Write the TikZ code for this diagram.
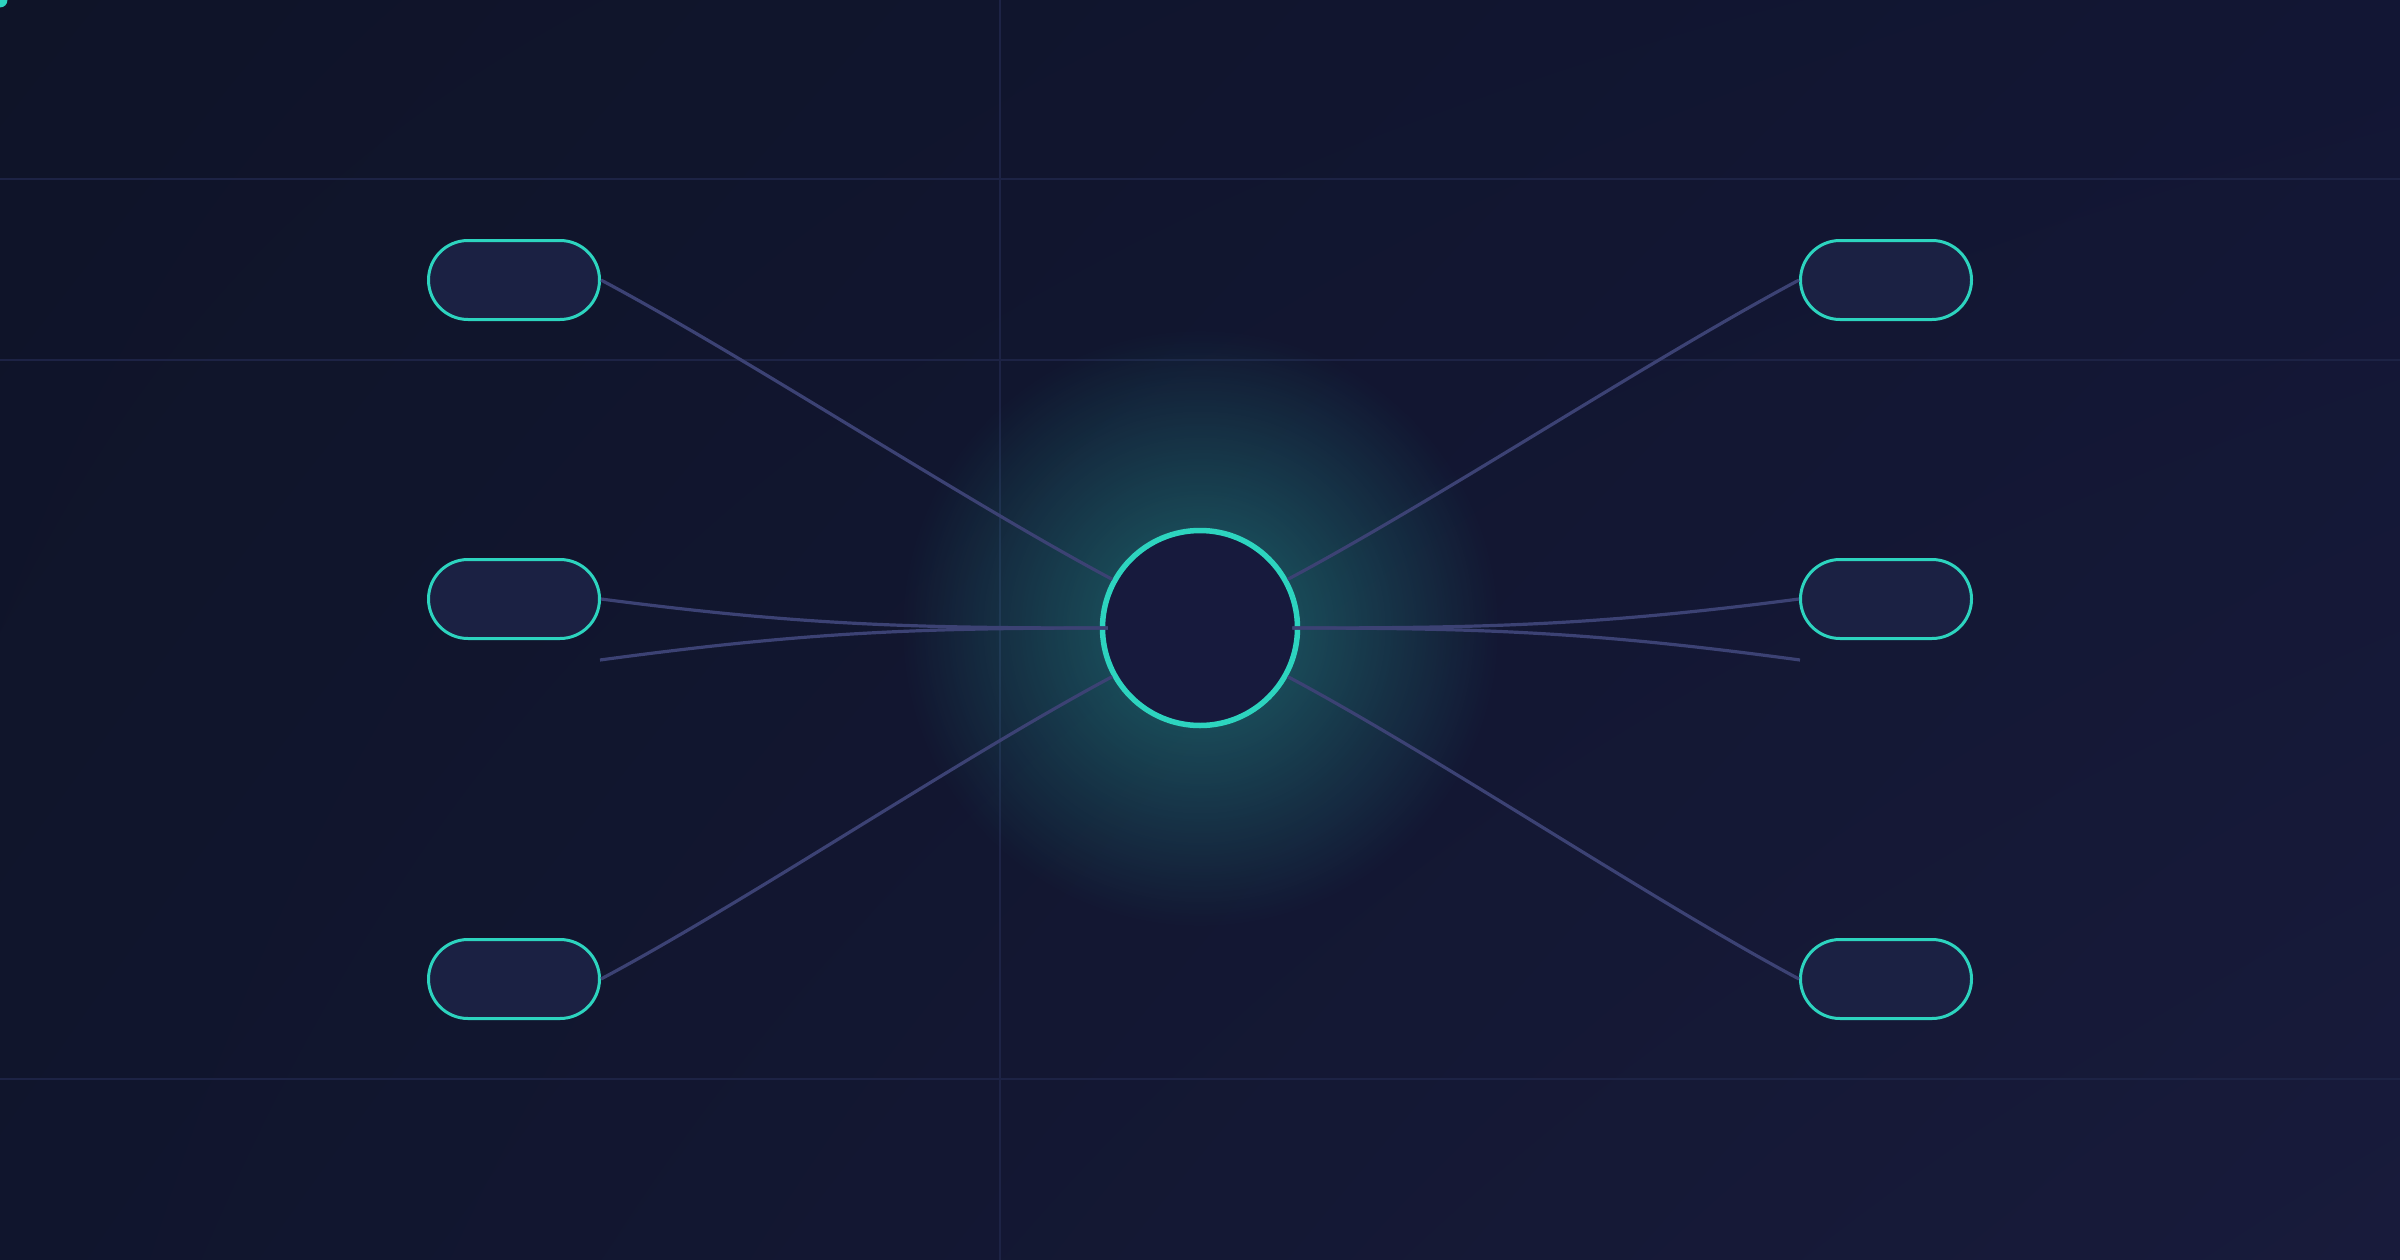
\documentclass[tikz,border=0pt]{standalone}
\usepackage{tikz}
\usetikzlibrary{shadings,fadings}
\definecolor{bgtl}{HTML}{0F1428}
\definecolor{bgtr}{HTML}{121634}
\definecolor{bgbl}{HTML}{10152D}
\definecolor{bgbr}{HTML}{181B3B}
\definecolor{tealc}{HTML}{2DD4BF}
\definecolor{pillfill}{HTML}{1B2143}
\definecolor{hubfill}{HTML}{171A3D}
\definecolor{linkc}{HTML}{3C4274}
\definecolor{gridc}{HTML}{1D2345}
\tikzfading[name=glowfade, inner color=transparent!0, outer color=transparent!100]

\begin{document}
\begin{tikzpicture}[x=1pt,y=-1pt,
    pill/.style={draw=tealc, fill=pillfill, line width=3pt, rounded corners=39.5pt,
      minimum width=171pt, minimum height=79pt, inner sep=0pt},
    hubc/.style={circle, draw=tealc, fill=hubfill, line width=5.5pt, minimum size=195pt, inner sep=0pt},
    link/.style={draw=linkc, line width=3.2pt},
    gridl/.style={draw=gridc, line width=1.3pt}]
  \useasboundingbox (0,0) rectangle (2400,1260);
  \clip (0,0) rectangle (2400,1260);
  \shade[upper left=bgtl, upper right=bgtr, lower left=bgbl, lower right=bgbr] (0,0) rectangle (2400,1260);

  % faint grid
  \draw[gridl] (0,179) -- (2400,179);
  \draw[gridl] (0,360) -- (2400,360);
  \draw[gridl] (0,1079) -- (2400,1079);
  \draw[gridl] (1000,0) -- (1000,1260);

  % glow behind the hub
  \coordinate (ctr) at (1200,628);
  \fill[tealc, fill opacity=0.4, path fading=glowfade] (ctr) circle (300pt);

  \node (dot) at (0,0)[circle, fill=tealc, minimum size=15pt, inner sep=0pt]{};

  \node (hub) at (ctr)[hubc]{};
  \node (tl) at (514,280)[pill]{};
  \node (ml) at (514,599)[pill]{};
  \node (bl) at (514,979)[pill]{};
  \node (tr) at (1886,280)[pill]{};
  \node (mr) at (1886,599)[pill]{};
  \node (br) at (1886,979)[pill]{};
  \coordinate (mlfree) at (600,660);
  \coordinate (mrfree) at (1800,660);

  % left links
  \draw[link] (tl.east) .. controls +(150,80) and +(-150,-80) .. (hub.151);
  \draw[link] (ml.east) .. controls +(200,26) and +(-200,0) .. ([xshift=8pt]hub.west);
  \draw[link] (mlfree) .. controls +(200,-27) and +(-200,0) .. ([xshift=8pt]hub.west);
  \draw[link] (bl.east) .. controls +(150,-80) and +(-150,80) .. (hub.209);
  % right links
  \draw[link] (tr.west) .. controls +(-150,80) and +(150,-80) .. (hub.29);
  \draw[link] (mr.west) .. controls +(-200,26) and +(200,0) .. ([xshift=-8pt]hub.east);
  \draw[link] (mrfree) .. controls +(-200,-27) and +(200,0) .. ([xshift=-8pt]hub.east);
  \draw[link] (br.west) .. controls +(-150,-80) and +(150,80) .. (hub.331);
\end{tikzpicture}
\end{document}
